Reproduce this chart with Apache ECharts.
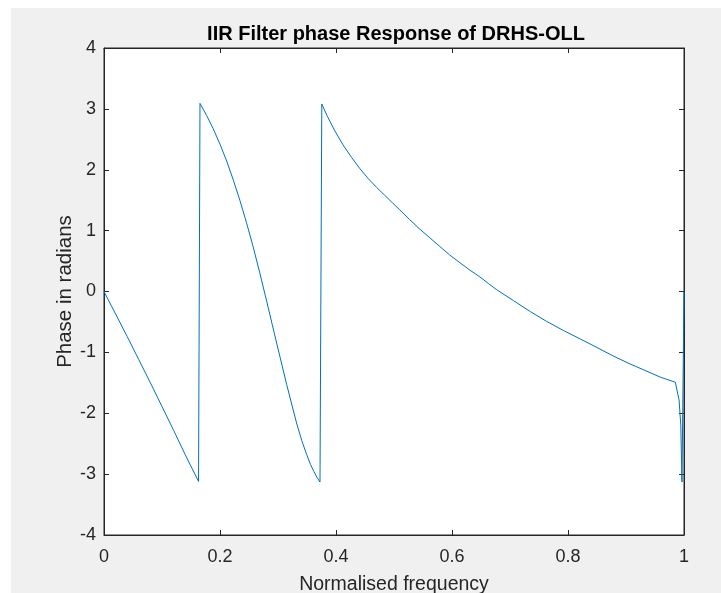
<!DOCTYPE html>
<html>
<head>
<meta charset="utf-8">
<script src="https://cdn.jsdelivr.net/npm/echarts@6/dist/echarts.min.js"></script>
<style>
  html, body { margin: 0; padding: 0; background: #ffffff; }
  #chart { width: 721px; height: 593px; }
</style>
</head>
<body>
<div id="chart"></div>
<script>
// Normalised frequency samples (x) and wrapped phase in radians (y)
const freq = [
  0, 0.02, 0.04, 0.06, 0.08, 0.1, 0.12, 0.14, 0.163,
  0.1655, 0.177, 0.188, 0.2, 0.2116, 0.223, 0.2345, 0.246, 0.257, 0.269, 0.2805, 0.29, 0.298, 0.315, 0.332, 0.341, 0.3495, 0.356, 0.362, 0.367, 0.3724,
  0.3755, 0.385, 0.398, 0.412, 0.427, 0.441, 0.456, 0.47, 0.484, 0.497, 0.51, 0.527, 0.545, 0.562, 0.579, 0.596, 0.614, 0.631, 0.648, 0.663, 0.677,
  0.706, 0.735, 0.763, 0.792, 0.821, 0.85, 0.878, 0.907, 0.936, 0.96, 0.985, 0.988,
  0.9915, 0.9945, 0.9965, 1.0
];
const phase = [
  0, -0.37, -0.74, -1.12, -1.5, -1.89, -2.28, -2.68, -3.12,
  3.09, 2.89, 2.68, 2.42, 2.14, 1.83, 1.49, 1.12, 0.74, 0.29, -0.16, -0.54, -0.86, -1.53, -2.16, -2.45, -2.68, -2.84, -2.96, -3.05, -3.13,
  3.08, 2.88, 2.64, 2.41, 2.2, 2.02, 1.85, 1.71, 1.58, 1.46, 1.34, 1.18, 1.02, 0.88, 0.74, 0.6, 0.47, 0.35, 0.24, 0.13, 0.03,
  -0.15, -0.33, -0.49, -0.64, -0.78, -0.92, -1.06, -1.19, -1.31, -1.41, -1.49, -1.49,
  -1.78, -2.2, -3.13, 0
];
const xTicks = ['0', '0.2', '0.4', '0.6', '0.8', '1'];
const yTicks = ['-4', '-3', '-2', '-1', '0', '1', '2', '3', '4'];

const titleText = 'IIR Filter phase Response of DRHS-OLL';
const xName = 'Normalised frequency';
const yName = 'Phase in radians';

const FONT = "'Liberation Sans', Arial, sans-serif";
const AXIS = '#262626';

const chart = echarts.init(document.getElementById('chart'), null, { renderer: 'canvas' });

const points = freq.map((f, i) => [f, phase[i]]);

const tickStyle = { show: true, inside: true, length: 5, lineStyle: { color: AXIS, width: 1 } };
const lineStyle = { show: true, onZero: false, lineStyle: { color: AXIS, width: 1 } };

chart.setOption({
  backgroundColor: '#ffffff',
  animation: false,
  graphic: [{
    type: 'rect',
    z: -10,
    shape: { x: 11, y: 8, width: 721, height: 593 },
    style: { fill: '#f0f0f0' }
  }],
  title: {
    text: titleText,
    left: 391,
    textAlign: 'center',
    top: 19,
    textStyle: { fontFamily: FONT, fontWeight: 'bold', fontSize: 20, color: '#000000' }
  },
  grid: {
    left: 104, right: 37, top: 48, bottom: 58,
    outerBoundsMode: 'none', containLabel: false,
    show: true, backgroundColor: '#ffffff', borderColor: AXIS, borderWidth: 1
  },
  xAxis: [{
    type: 'value', min: 0, max: 1, interval: 0.2, position: 'bottom',
    axisLine: lineStyle, axisTick: tickStyle, splitLine: { show: false },
    axisLabel: {
      margin: 13, color: AXIS, fontFamily: FONT, fontSize: 18,
      formatter: v => xTicks[Math.round(v / 0.2)]
    },
    name: xName, nameLocation: 'middle', nameGap: 40, nameMoveOverlap: false,
    nameTextStyle: { fontFamily: FONT, fontSize: 19.5, color: AXIS }
  }, {
    type: 'value', min: 0, max: 1, interval: 0.2, position: 'top',
    axisLine: lineStyle, axisTick: tickStyle, axisLabel: { show: false }, splitLine: { show: false }
  }],
  yAxis: [{
    type: 'value', min: -4, max: 4, interval: 1, position: 'left',
    axisLine: lineStyle, axisTick: tickStyle, splitLine: { show: false },
    axisLabel: {
      margin: 8, color: AXIS, fontFamily: FONT, fontSize: 18,
      formatter: v => yTicks[Math.round(v) + 4]
    },
    name: yName, nameLocation: 'middle', nameGap: 28, nameRotate: 90, nameMoveOverlap: false,
    nameTextStyle: { fontFamily: FONT, fontSize: 20.5, color: AXIS }
  }, {
    type: 'value', min: -4, max: 4, interval: 1, position: 'right',
    axisLine: lineStyle, axisTick: tickStyle, axisLabel: { show: false }, splitLine: { show: false }
  }],
  series: [{
    type: 'line',
    data: points,
    xAxisIndex: 0, yAxisIndex: 0,
    showSymbol: false,
    lineStyle: { color: '#0072bd', width: 1 },
    clip: true
  }]
});
</script>
</body>
</html>
